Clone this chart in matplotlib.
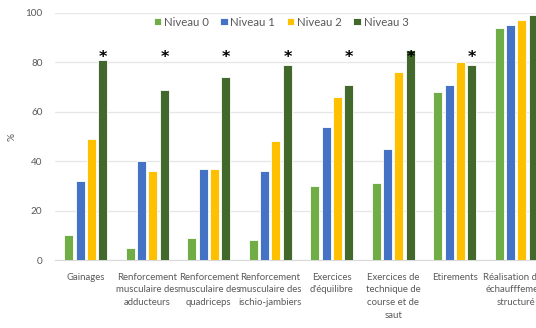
import matplotlib
matplotlib.use("Agg")
import matplotlib.pyplot as plt
import numpy as np

categories = ["Gainages",
              "Renforcement\nmusculaire des\nadducteurs",
              "Renforcement\nmusculaire des\nquadriceps",
              "Renforcement\nmusculaire des\nischio-jambiers",
              "Exercices\nd'équilibre",
              "Exercices de\ntechnique de\ncourse et de\nsaut",
              "Etirements",
              "Réalisation d'un\néchaufffement\nstructuré"]
series_names = ["Niveau 0", "Niveau 1", "Niveau 2", "Niveau 3"]
niveau0 = [10, 5, 9, 8, 30, 31, 68, 94]
niveau1 = [32, 40, 37, 36, 54, 45, 71, 95]
niveau2 = [49, 36, 37, 48, 66, 76, 80, 97]
niveau3 = [81, 69, 74, 79, 71, 85, 79, 99]
significant = [True, True, True, True, True, True, True, False]
yticks = [0, 20, 40, 60, 80, 100]

colors = ["#70AD47", "#4472C4", "#FFC000", "#43682B"]
font = ["Lato", "DejaVu Sans"]
plt.rcParams['font.family'] = font

fig = plt.figure(figsize=(5.36, 3.28), dpi=100)
W, H = 536, 328
left, right, bottom, top = 55, 547, 260, 13
ax = fig.add_axes([left / W, 1 - bottom / H, (right - left) / W, (bottom - top) / H])

x = np.arange(len(categories))
pitch = 0.184
bw = 0.148
for i, (vals, c, name) in enumerate(zip([niveau0, niveau1, niveau2, niveau3], colors, series_names)):
    ax.bar(x + (i - 1.5) * pitch, vals, width=bw, color=c, edgecolor="#ffffff", linewidth=0.6,
           label=name, zorder=3)

for xi, s in zip(x, significant):
    if s:
        ax.text(xi + 1.5 * pitch + 0.01, 82, "*", ha="center", va="center", fontsize=11.5,
                fontweight="bold", color="black", zorder=4, family="DejaVu Sans")

ax.set_xlim(-0.5, len(categories) - 0.5)
ax.set_ylim(0, 100)
ax.set_yticks(yticks)
ax.set_xticks(x)
ax.set_xticklabels(categories, fontsize=6.9, color="#595959", linespacing=1.55)
ax.tick_params(axis="y", labelsize=7.2, labelcolor="#595959", length=0, pad=9)
ax.tick_params(axis="x", length=0, pad=9)
for sp in ["top", "right", "left"]:
    ax.spines[sp].set_visible(False)
ax.spines["bottom"].set_color("#d9d9d9")
ax.grid(axis="y", color="#e6e6e6", linewidth=0.9, zorder=0)
ax.set_axisbelow(True)
ax.set_ylabel("%", fontsize=7.2, color="#595959", labelpad=6)

leg = fig.legend(loc="center", bbox_to_anchor=(281 / W, 1 - 22 / H), ncol=4, frameon=False,
                 fontsize=8.2, handlelength=0.65, handleheight=0.65, handletextpad=0.25,
                 columnspacing=1.0, labelcolor="#595959")

fig.savefig("out.png", dpi=100)
